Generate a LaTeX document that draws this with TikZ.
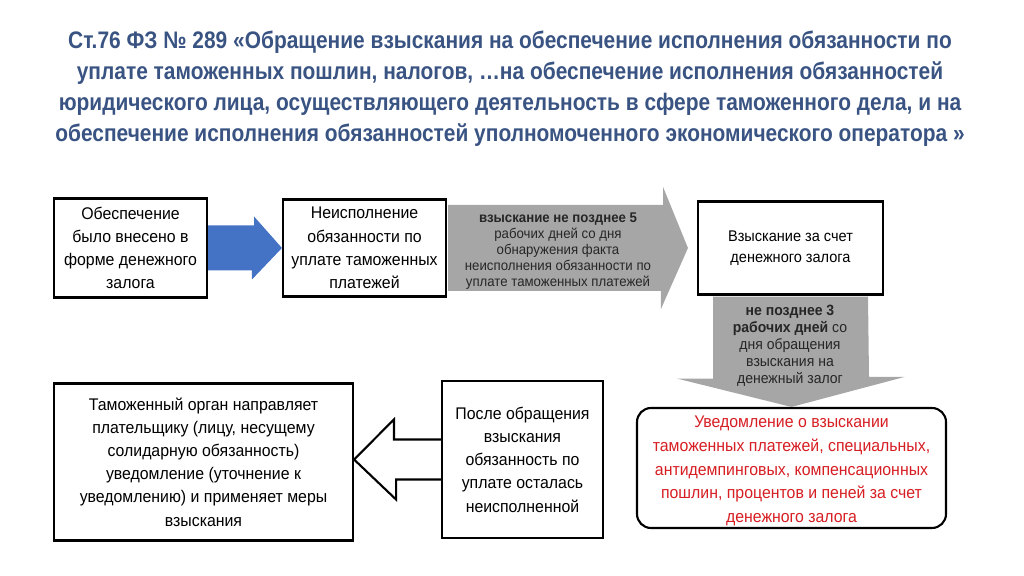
\documentclass[tikz,border=0pt]{standalone}
\usepackage{fontspec}
\setmainfont[FakeStretch=0.94]{Liberation Sans}
\newfontfamily\titlefont[FakeStretch=0.875]{Liberation Sans}
\usetikzlibrary{calc}

\definecolor{titleblue}{RGB}{57,83,130}
\definecolor{arrowblue}{RGB}{68,114,196}
\definecolor{arrowgray}{RGB}{166,166,166}
\definecolor{notered}{RGB}{215,30,35}

\tikzset{
  box/.style={draw=black, line width=1.5pt, fill=white, inner sep=0pt},
  boxtext/.style={align=center, font=\fontsize{12}{16.5}\selectfont},
  graytext/.style={align=center, text=black!85, font=\fontsize{10}{11.5}\selectfont},
}

\begin{document}
\begin{tikzpicture}[x=0.025cm, y=-0.025cm]
   \useasboundingbox (0,0) rectangle (1024,576);

   % heading
   \node[text=titleblue, align=center, font=\titlefont\bfseries\fontsize{17}{22}\selectfont] (title) at (510,89)
     {Ст.76 ФЗ № 289 «Обращение взыскания на обеспечение исполнения обязанности по\\
      уплате таможенных пошлин, налогов, …на обеспечение исполнения обязанностей\\
      юридического лица, осуществляющего деятельность в сфере таможенного дела, и на\\
      обеспечение исполнения обязанностей уполномоченного экономического оператора »};

   % top row
   \node[box, minimum width=153*0.025cm, minimum height=99*0.025cm] (obesp) at (130.5,248) {};
   \node[boxtext] at (obesp) {Обеспечение\\было внесено в\\форме денежного\\залога};
   \node[box, minimum width=163*0.025cm, minimum height=97*0.025cm] (neisp) at (364.5,248) {};
   \node[boxtext] at (neisp) {Неисполнение\\обязанности по\\уплате таможенных\\платежей};
   \node[box, minimum width=185*0.025cm, minimum height=93*0.025cm] (vzysk) at (790.5,248) {};
   \node[align=center, font=\fontsize{11}{15}\selectfont] at (vzysk) {Взыскание за счет\\денежного залога};

   % bottom row
   \node[box, minimum width=299*0.025cm, minimum height=157*0.025cm] (organ) at (203.5,462) {};
   \node[boxtext] at (organ) {Таможенный орган направляет\\плательщику (лицу, несущему\\солидарную обязанность)\\уведомление (уточнение к\\уведомлению) и применяет меры\\взыскания};
   \node[box, minimum width=161*0.025cm, minimum height=157*0.025cm] (posle) at (522.5,459.5) {};
   \node[boxtext] at (posle) {После обращения\\взыскания\\обязанность по\\уплате осталась\\неисполненной};
   \node[box, rounded corners=0.35cm, minimum width=309*0.025cm, minimum height=120*0.025cm] (uved) at (791.5,468) {};
   \node[boxtext, text=notered, font=\fontsize{12}{16.8}\selectfont] at ($(uved)+(0,3)$) {Уведомление о взыскании\\таможенных платежей, специальных,\\антидемпинговых, компенсационных\\пошлин, процентов и пеней за счет\\денежного залога};

   % block arrows
   \fill[arrowblue] ($(obesp.east)+(0,-22.5)$) -- ++(46,0) -- ++(0,-9) -- (neisp.west)
     -- ++(-30,31.5) -- ++(0,-9) -- ($(obesp.east)+(0,22.5)$) -- cycle;
   \fill[arrowgray] ($(neisp.east)+(1,-43)$) -- ++(215,0) -- ++(0,-18) -- ($(vzysk.west)+(-9,0)$)
     -- ++(-27,61) -- ++(0,-18) -- ($(neisp.east)+(1,43)$) -- cycle;
   \fill[arrowgray] ($(vzysk.south)+(-77.5,1)$) -- ++(0,82) -- ++(-36,0) -- (uved.north)
     -- ++(113,-30) -- ++(-35.5,0) -- ($(vzysk.south)+(77.5,1)$) -- cycle;
   \draw[line width=1.5pt, line join=miter, fill=white] ($(posle.west)+(0,-20)$) -- ++(-47,0) -- ++(0,-20)
     -- (posle.west -| organ.east) -- ++(42,40) -- ++(0,-20) -- ($(posle.west)+(0,20)$);

   \node[graytext] (text5) at (558,251) {\textbf{взыскание не позднее 5}\\рабочих дней со дня\\обнаружения факта\\неисполнения обязанности по\\уплате таможенных платежей};
   \node[graytext, font=\fontsize{10.6}{12}\selectfont] (text3) at (790,346) {\textbf{не позднее 3}\\\textbf{рабочих дней} со\\дня обращения\\взыскания на\\денежный залог};
\end{tikzpicture}
\end{document}
